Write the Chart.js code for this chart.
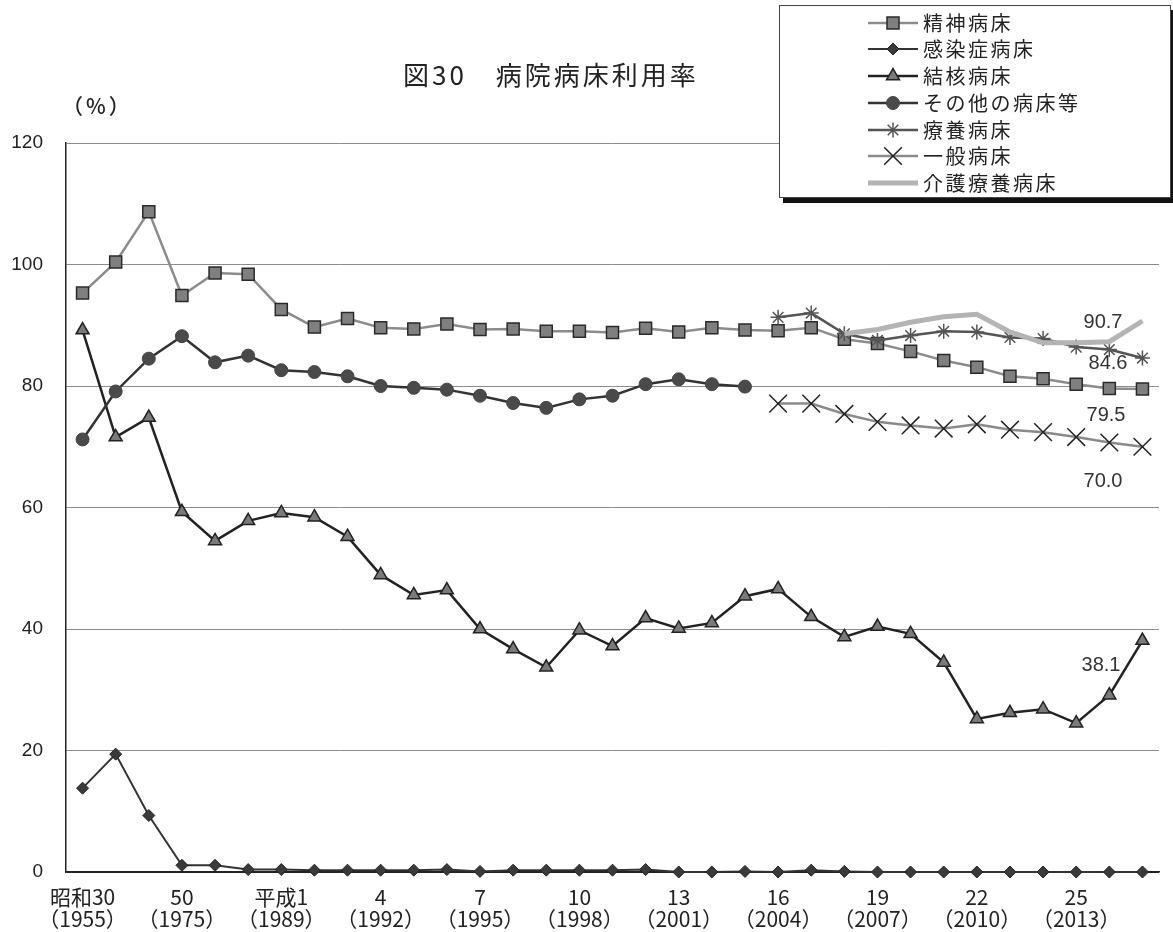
<!DOCTYPE html>
<html>
<head>
<meta charset="utf-8">
<script src="https://cdn.jsdelivr.net/npm/chart.js@4.4.0/dist/chart.umd.min.js"></script>
<style>
html,body{margin:0;padding:0;background:#fff;}
#wrap{position:relative;width:1173px;height:932px;overflow:hidden;font-family:"Noto Sans CJK JP",sans-serif;color:#222;}
#c{position:absolute;left:0;top:0;}
#title{position:absolute;left:403px;top:58px;font-size:26px;line-height:32px;letter-spacing:3px;white-space:nowrap;color:#222;}
#unit{position:absolute;left:62px;top:91px;font-size:21px;line-height:28px;letter-spacing:3px;white-space:nowrap;font-weight:500;}
#legend{position:absolute;left:779px;top:5px;width:390px;height:191px;border:1px solid #444;background:#fff;box-shadow:4px 5px 0 #111;}
.li{position:absolute;left:0;width:390px;height:26px;}
.li canvas{position:absolute;left:86px;top:0;}
.li span{position:absolute;left:143px;top:0;font-size:20px;letter-spacing:2.5px;white-space:nowrap;line-height:26px;color:#222;}
</style>
</head>
<body>
<div id="wrap">
  <canvas id="c" width="1173" height="932"></canvas>
  <div id="title">図30　病院病床利用率</div>
  <div id="unit">（%）</div>
  <div id="legend"></div>
</div>
<script>
// ---- data ----
const categories = ['昭和30','35','40','50','55','60','平成1','2','3','4','5','6','7','8','9','10','11','12','13','14','15','16','17','18','19','20','21','22','23','24','25','26','27'];
const years = [1955,1960,1965,1975,1980,1985,1989,1990,1991,1992,1993,1994,1995,1996,1997,1998,1999,2000,2001,2002,2003,2004,2005,2006,2007,2008,2009,2010,2011,2012,2013,2014,2015];
const shownTickIdx = [0,3,6,9,12,15,18,21,24,27,30];
const yTicks = [0,20,40,60,80,100,120];

const seishin = [95.3,100.4,108.7,94.9,98.6,98.4,92.6,89.7,91.1,89.6,89.4,90.2,89.3,89.4,89.0,89.0,88.8,89.5,88.9,89.6,89.2,89.1,89.6,87.7,87.0,85.7,84.2,83.1,81.6,81.2,80.3,79.6,79.5];
const kansen = [13.8,19.4,9.3,1.1,1.1,0.4,0.4,0.3,0.3,0.3,0.3,0.4,0.1,0.3,0.3,0.3,0.3,0.4,0.0,0.0,0.1,0.0,0.3,0.1,0.0,0.0,0.0,0.0,0.0,0.0,0.0,0.0,0.0];
const kekkaku = [89.2,71.6,74.8,59.3,54.5,57.8,59.1,58.4,55.2,48.9,45.6,46.4,40.0,36.7,33.7,39.8,37.2,41.8,40.1,41.0,45.4,46.6,42.0,38.7,40.4,39.2,34.5,25.2,26.2,26.8,24.5,29.1,38.1];
const sonota = [71.2,79.1,84.5,88.2,83.9,85.0,82.6,82.3,81.6,80.0,79.7,79.4,78.4,77.2,76.4,77.8,78.4,80.3,81.1,80.3,79.9,null,null,null,null,null,null,null,null,null,null,null,null];
const ryouyou = [null,null,null,null,null,null,null,null,null,null,null,null,null,null,null,null,null,null,null,null,null,91.3,92.0,88.6,87.5,88.3,89.0,88.9,88.0,87.8,86.4,86.0,84.6];
const ippan = [null,null,null,null,null,null,null,null,null,null,null,null,null,null,null,null,null,null,null,null,null,77.1,77.1,75.4,74.1,73.5,73.0,73.7,72.8,72.4,71.6,70.7,70.0];
const kaigo = [null,null,null,null,null,null,null,null,null,null,null,null,null,null,null,null,null,null,null,null,null,null,null,88.6,89.3,90.5,91.4,91.8,88.9,87.1,87.1,87.3,90.7];

const seriesNames = ['精神病床','感染症病床','結核病床','その他の病床等','療養病床','一般病床','介護療養病床'];
const seriesData = [seishin,kansen,kekkaku,sonota,ryouyou,ippan,kaigo];

// ---- styles ----
const styles = [
  {line:'#8c8c8c', lw:2.5, ps:'rect',     r:8.5,  fill:'#7f7f7f', stroke:'#2a2a2a', bw:1.5},
  {line:'#333333', lw:2,   ps:'rectRot',  r:6,    fill:'#3a3a3a', stroke:'#222222', bw:1},
  {line:'#222222', lw:2.5, ps:'triangle', r:7.5,  fill:'#7a7a7a', stroke:'#222222', bw:1.5},
  {line:'#333333', lw:2.5, ps:'circle',   r:6.5,  fill:'#4a4a4a', stroke:'#444444', bw:1},
  {line:'#555555', lw:2.5, ps:'star',     r:7.5,  fill:'#555555', stroke:'#555555', bw:1.5},
  {line:'#8a8a8a', lw:2.5, ps:'crossRot', r:12.5, fill:'#222222', stroke:'#222222', bw:1.5},
  {line:'#b4b4b4', lw:5,   ps:false,      r:0,    fill:'#b4b4b4', stroke:'#b4b4b4', bw:0}
];
const endLabelOffsets = {
  '介護療養病床': {dx:-20, dy:1},
  '療養病床': {dx:-15, dy:5},
  '精神病床': {dx:-17, dy:26},
  '一般病床': {dx:-20, dy:35},
  '結核病床': {dx:-22, dy:25}
};

const datasets = seriesNames.map((name, k) => {
  const s = styles[k];
  return {
    label: name,
    data: seriesData[k],
    borderColor: s.line,
    borderWidth: s.lw,
    backgroundColor: s.fill,
    pointStyle: s.ps,
    pointRadius: s.r,
    pointHoverRadius: s.r,
    pointBackgroundColor: s.fill,
    pointBorderColor: s.stroke,
    pointBorderWidth: s.bw,
    tension: 0,
    spanGaps: false,
    fill: false,
    order: seriesNames.length - k,
    clip: false
  };
});

const endLabelPlugin = {
  id: 'endLabels',
  afterDatasetsDraw(chart) {
    const ctx = chart.ctx;
    ctx.save();
    ctx.font = '20px "Liberation Sans", Arial, sans-serif';
    ctx.fillStyle = '#333';
    ctx.textAlign = 'right';
    ctx.textBaseline = 'middle';
    chart.data.datasets.forEach((ds, di) => {
      const off = endLabelOffsets[ds.label];
      if (!off) return;
      const meta = chart.getDatasetMeta(di);
      const idx = ds.data.length - 1;
      const pt = meta.data[idx];
      if (!pt || ds.data[idx] == null) return;
      ctx.fillText(ds.data[idx].toFixed(1), pt.x + off.dx, pt.y + off.dy);
    });
    ctx.restore();
  }
};

Chart.defaults.font.family = '"Noto Sans CJK JP", sans-serif';
Chart.defaults.color = '#222';

const chart = new Chart(document.getElementById('c'), {
  type: 'line',
  data: { labels: categories, datasets },
  options: {
    responsive: false,
    devicePixelRatio: 1,
    animation: false,
    events: [],
    layout: { padding: { top: 143, right: 6, left: 0, bottom: 0 } },
    plugins: { legend: { display: false }, tooltip: { enabled: false }, title: { display: false } },
    scales: {
      x: {
        type: 'category',
        offset: true,
        grid: { display: false },
        border: { display: true, color: '#222', width: 1.5 },
        ticks: {
          autoSkip: false, maxRotation: 0, minRotation: 0, padding: 6,
          font: { size: 21, lineHeight: 1.05, family: '"Noto Sans CJK JP", sans-serif' },
          color: '#222',
          callback: (v, i) => shownTickIdx.includes(i) ? [categories[i], '（' + years[i] + '）'] : ''
        },
        afterFit: (s) => { s.height = 60; }
      },
      y: {
        min: 0, max: 120,
        afterBuildTicks: (s) => { s.ticks = yTicks.map(v => ({ value: v })); },
        grid: {
          color: (c) => (c.tick && c.tick.value === 0) ? '#222' : '#8c8c8c',
          lineWidth: 1, drawTicks: false
        },
        border: { display: true, color: '#222', width: 1.5 },
        ticks: {
          padding: 23, color: '#222',
          font: { size: 19, family: '"Liberation Sans", Arial, sans-serif' }
        },
        afterFit: (s) => { s.width = 66; }
      }
    }
  },
  plugins: [endLabelPlugin]
});

// ---- HTML legend (symbols drawn with Chart.js point helper) ----
const legend = document.getElementById('legend');
const rowCenters = [16.7, 43.4, 70.1, 96.8, 123.5, 150.2, 177];
seriesNames.forEach((name, k) => {
  const s = styles[k];
  const row = document.createElement('div');
  row.className = 'li';
  row.style.top = (rowCenters[k] - 13) + 'px';
  const cv = document.createElement('canvas');
  cv.width = 54; cv.height = 26;
  const g = cv.getContext('2d');
  g.strokeStyle = s.line;
  g.lineWidth = s.lw;
  g.beginPath(); g.moveTo(2, 13); g.lineTo(52, 13); g.stroke();
  if (s.ps && Chart.helpers && Chart.helpers.drawPoint) {
    g.fillStyle = s.fill; g.strokeStyle = s.stroke; g.lineWidth = s.bw;
    Chart.helpers.drawPoint(g, { pointStyle: s.ps, radius: s.r, rotation: 0, borderWidth: s.bw }, 27, 13);
  }
  const sp = document.createElement('span');
  sp.textContent = name;
  row.appendChild(cv); row.appendChild(sp);
  legend.appendChild(row);
});
</script>
</body>
</html>
